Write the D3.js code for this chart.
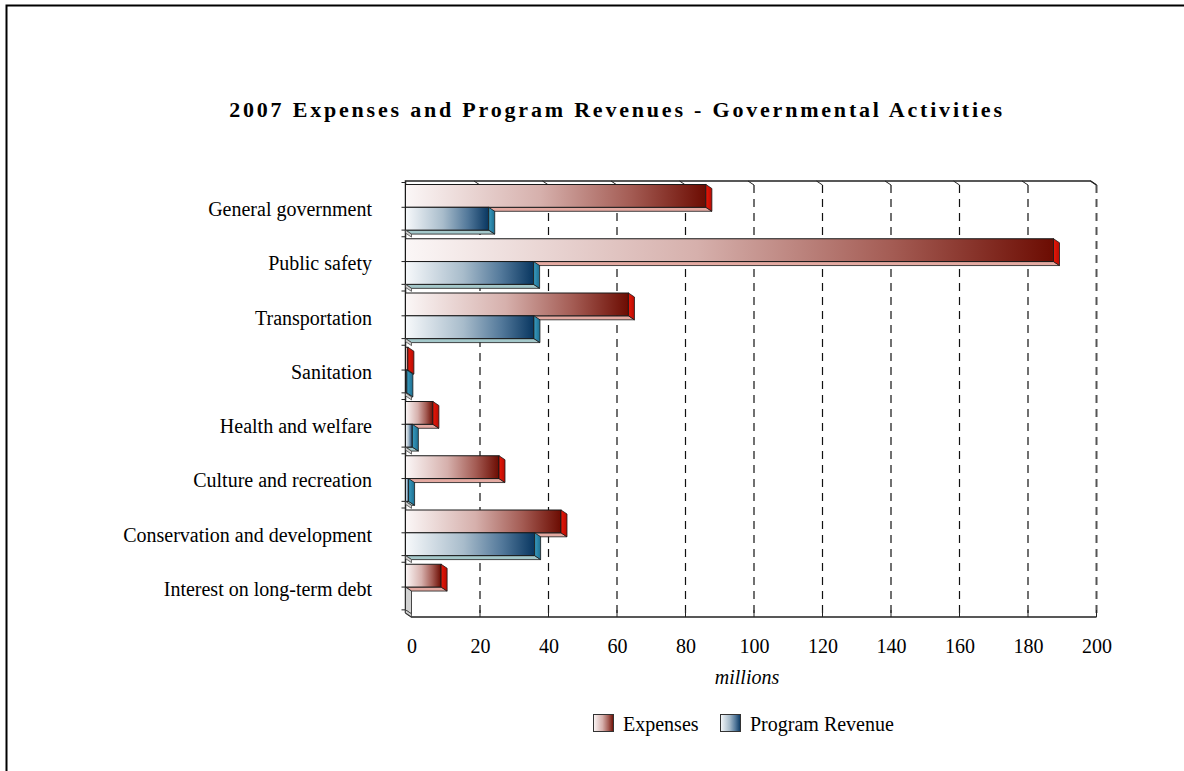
<!DOCTYPE html>
<html><head><meta charset="utf-8">
<script src="https://cdn.jsdelivr.net/npm/d3@7/dist/d3.min.js"></script>
<style>body{margin:0;background:#fff}svg{display:block}text{font-family:"Liberation Serif","Times New Roman",serif;fill:#000}</style>
</head><body><svg id="c" width="1184" height="771"></svg>
<script>
const categories = ["General government","Public safety","Transportation","Sanitation","Health and welfare","Culture and recreation","Conservation and development","Interest on long-term debt"];
const expenses = [87.7, 189.2, 65.1, 0.7, 8.0, 27.3, 45.4, 10.4];
const programRevenue = [24.3, 37.4, 37.5, 0.4, 2.0, 0.9, 37.7, 0];
const tickValues = [0,20,40,60,80,100,120,140,160,180,200];
const seriesNames = ["Expenses","Program Revenue"];
const title = "2007 Expenses and Program Revenues - Governmental Activities";
const axisTitle = "millions";

(function(){
const svg = d3.select("#c");
svg.append("rect").attr("x",6.5).attr("y",5.5).attr("width",1300).attr("height",900).attr("fill","none").attr("stroke","#000").attr("stroke-width",2);

const DX = 6, DY = 4;
const x = d3.scaleLinear().domain([0,200]).range([411.5,1096.5]);
const y = d3.scaleBand().domain(categories).range([182.5,616.5]).paddingInner(0).paddingOuter(0);
const barH = 22.8;
const defs = svg.append("defs");
function grad(id, stops){
  const g = defs.append("linearGradient").attr("id",id).attr("x1","0%").attr("x2","100%").attr("y1","0").attr("y2","0");
  stops.forEach(s=>g.append("stop").attr("offset",s[0]).attr("stop-color",s[1]));
}
grad("gExp",[["0%","#fbf7f7"],["45%","#d6b0ac"],["75%","#a45c54"],["100%","#6c0c02"]]);
grad("gRev",[["0%","#f7f9fb"],["45%","#a8bccb"],["75%","#52789a"],["100%","#083660"]]);
grad("gExpSide",[["0%","#e81808"],["100%","#b80c04"]]);
grad("gRevSide",[["0%","#3a9cc0"],["100%","#1c6e90"]]);

svg.append("text").attr("x",617).attr("y",117).attr("text-anchor","middle").attr("font-size",22).attr("font-weight","bold").attr("letter-spacing",2.8).text(title);

const g = svg.append("g");
const yTop = 181, yBot = 617;
g.append("path").attr("d",`M${x(0)-DX},${yBot-DY} L${x(0)-DX},${yTop} L${x(200)-DX},${yTop} L${x(200)},${yTop+DY}`).attr("fill","none").attr("stroke","#222").attr("stroke-width",1.5);
g.append("path").attr("d",`M${x(0)-DX},${yBot-DY} L${x(0)},${yBot} L${x(200)},${yBot}`).attr("fill","none").attr("stroke","#222").attr("stroke-width",1.5);
tickValues.filter(v=>v>0).forEach(v=>{
  g.append("line").attr("x1",x(v)).attr("x2",x(v)).attr("y1",yTop+DY).attr("y2",yBot)
   .attr("stroke", v===200?"#555":"#111").attr("stroke-width", v===200?2:1.2).attr("stroke-dasharray","8,6");
  g.append("line").attr("x1",x(v)-DX).attr("x2",x(v)).attr("y1",yTop).attr("y2",yTop+DY).attr("stroke","#222").attr("stroke-width",1);
  g.append("line").attr("x1",x(v)).attr("x2",x(v)).attr("y1",yBot-7).attr("y2",yBot).attr("stroke","#222").attr("stroke-width",1);
});
categories.forEach(c=>{
  [y(c), y(c)+2+barH, y(c)+2+2*barH].forEach(t=>{
    g.append("line").attr("x1",x(0)-DX-4).attr("x2",x(0)-DX).attr("y1",t).attr("y2",t).attr("stroke","#222");
  });
});

const ax = d3.axisBottom(x).tickValues(tickValues).tickSize(0).tickPadding(0);
const axG = svg.append("g").attr("transform",`translate(0,653)`).call(ax);
axG.select(".domain").remove();
axG.selectAll("text").attr("font-size",20).attr("dy",0).attr("y",0).style("font-family",'"Liberation Serif",serif').attr("fill","#000");

svg.append("text").attr("x",747).attr("y",684).attr("text-anchor","middle").attr("font-size",20).attr("font-style","italic").text(axisTitle);

const yAx = d3.axisLeft(y).tickSize(0).tickPadding(0);
const yG = svg.append("g").attr("transform",`translate(372,0)`).call(yAx);
yG.select(".domain").remove();
yG.selectAll("text").attr("font-size",20).attr("dy","0.32em").style("font-family",'"Liberation Serif",serif').attr("fill","#000");

const series = [
  {vals:expenses, fill:"url(#gExp)", side:"url(#gExpSide)", bot:"#e4aaa2", off:0},
  {vals:programRevenue, fill:"url(#gRev)", side:"url(#gRevSide)", bot:"#a4c8ca", off:1}
];
const stroke = "#1a1a1a";
series.forEach(s=>{
  categories.forEach((c,i)=>{
    const v = s.vals[i];
    const t = y(c)+2+s.off*barH, b = t+barH;
    const x0 = x(0)-DX, x1 = x(v)-DX;
    g.append("path").attr("d",`M${x0},${b} L${x1},${b} L${x1+DX},${b+DY} L${x0+DX},${b+DY} Z`).attr("fill",s.bot).attr("stroke",stroke).attr("stroke-width",0.8);
    if (x1-x0>0.2) g.append("rect").attr("x",x0).attr("y",t).attr("width",x1-x0).attr("height",barH).attr("fill",s.fill).attr("stroke",stroke).attr("stroke-width",1);
    g.append("path").attr("d",`M${x1},${t} L${x1+DX},${t+DY} L${x1+DX},${b+DY} L${x1},${b} Z`)
      .attr("fill", v===0?"#d2d2d2":s.side).attr("stroke",stroke).attr("stroke-width",0.8);
    if (s.off===1) {
      g.append("path").attr("d",`M${x0},${b} L${x0+DX},${b+DY} L${x0+DX},${b+DY+3} L${x0},${b+3} Z`).attr("fill","#cfcfcf").attr("stroke","#333").attr("stroke-width",0.7);
    }
  });
});

const leg = svg.append("g");
const lx = [593, 720], gradIds = ["gExp","gRev"];
seriesNames.forEach((n,i)=>{
  leg.append("rect").attr("x",lx[i]+0.5).attr("y",714.5).attr("width",20).attr("height",17).attr("fill",`url(#${gradIds[i]})`).attr("stroke","#333").attr("stroke-width",1);
  leg.append("text").attr("x",lx[i]+30).attr("y",731).attr("font-size",20).text(n);
});
})();
</script></body></html>
